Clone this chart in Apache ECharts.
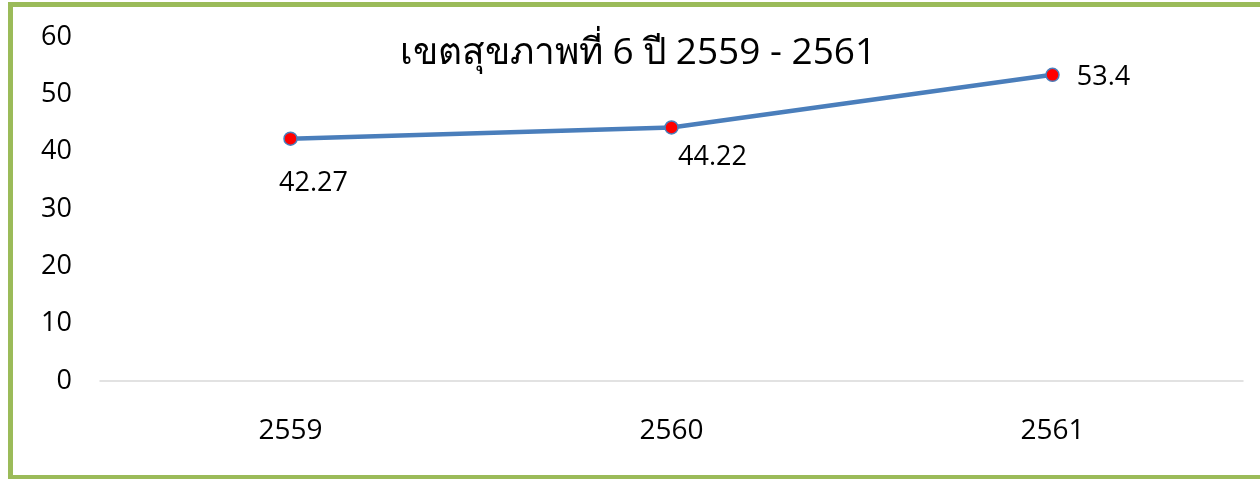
<!DOCTYPE html>
<html>
<head>
<meta charset="utf-8">
<script src="https://cdn.jsdelivr.net/npm/echarts@6/dist/echarts.min.js"></script>
<style>
  html, body { margin: 0; padding: 0; background: #fff; }
  #frame {
    position: absolute; left: 8px; top: 2px; width: 1252px; height: 477px;
    box-sizing: border-box; border: 5px solid #9BBB59; border-right: none; border-bottom-width: 4px;
  }
  #chart { position: absolute; left: 0; top: 0; width: 1260px; height: 479px; }
</style>
</head>
<body>
<div id="frame"></div>
<div id="chart"></div>
<script>
const titleText = 'เขตสุขภาพที่ 6 ปี 2559 - 2561'
const years = ['2559', '2560', '2561']
const values = [42.27, 44.22, 53.4]

// label placement per point, as in the original
const labelSetup = [
  { position: 'bottom', distance: 24, offset: [23, 0] },
  { position: 'bottom', distance: 9, offset: [41, 0] },
  { position: 'right', distance: 17, offset: [0, 2] }
]

const fontFamily = '"Open Sans", "Noto Sans", sans-serif'

const chart = echarts.init(document.getElementById('chart'))
chart.setOption({
  animation: false,
  title: {
    text: titleText,
    left: 633,
    top: 30,
    textAlign: 'center',
    textStyle: { fontFamily: fontFamily, fontSize: 37, fontWeight: 'normal', color: '#000' }
  },
  grid: { left: 100, right: 17, top: 37, bottom: 98 },
  xAxis: {
    type: 'category',
    data: years,
    axisLine: { lineStyle: { color: '#D9D9D9', width: 1.5 } },
    axisTick: { show: false },
    axisLabel: { color: '#000', fontSize: 28, fontFamily: fontFamily, margin: 36 }
  },
  yAxis: {
    type: 'value',
    min: 0,
    max: 60,
    interval: 10,
    axisLine: { show: false },
    axisTick: { show: false },
    splitLine: { show: false },
    axisLabel: { color: '#000', fontSize: 27, fontFamily: fontFamily, margin: 28 }
  },
  series: [{
    type: 'line',
    data: values.map((v, i) => ({
      value: v,
      label: labelSetup[i]
    })),
    lineStyle: { color: '#4A7EBB', width: 4.5 },
    symbol: 'circle',
    symbolSize: 13,
    itemStyle: { color: '#FF0000', borderColor: '#4A7EBB', borderWidth: 1.5 },
    label: {
      show: true,
      color: '#000',
      fontSize: 27,
      fontFamily: fontFamily
    }
  }]
})
</script>
</body>
</html>
